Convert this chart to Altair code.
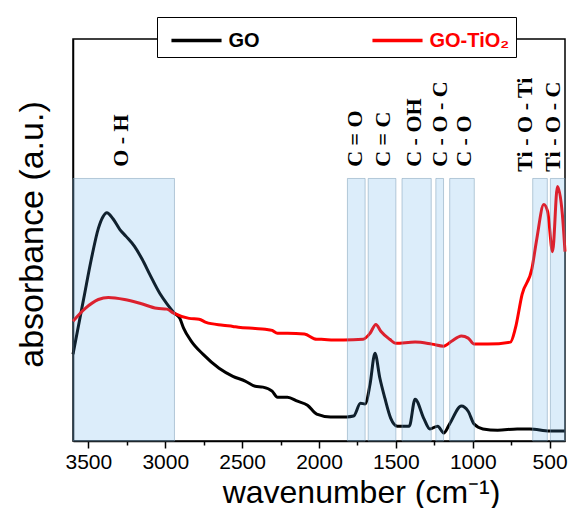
import altair as alt
import pandas as pd

# ---- data ----
go_wn = [3600, 3530, 3480, 3435, 3405, 3380, 3340, 3295, 3255, 3200, 3150, 3100, 3035, 2990, 2940,
         2905, 2880, 2830, 2755, 2650, 2560, 2480, 2415, 2365, 2305, 2270, 2205, 2140, 2075, 2015,
         1925, 1820, 1775, 1730, 1700, 1668, 1636, 1604, 1572, 1534, 1490, 1413, 1375, 1317, 1279,
         1228, 1189, 1151, 1074, 1030, 991, 934, 838, 711, 628, 500, 400]
go_abs = [0.216, 0.355, 0.454, 0.529, 0.558, 0.568, 0.553, 0.526, 0.509, 0.484, 0.452, 0.414, 0.367, 0.342, 0.318,
          0.305, 0.280, 0.248, 0.216, 0.181, 0.161, 0.149, 0.136, 0.134, 0.124, 0.109, 0.109, 0.099, 0.089, 0.067,
          0.060, 0.060, 0.062, 0.094, 0.092, 0.141, 0.218, 0.156, 0.107, 0.057, 0.037, 0.037, 0.104, 0.055, 0.030,
          0.037, 0.020, 0.042, 0.087, 0.074, 0.042, 0.030, 0.027, 0.030, 0.030, 0.025, 0.025]

red_wn = [3600, 3520, 3435, 3370, 3265, 3160, 3055, 2990, 2945, 2845, 2780, 2735, 2625, 2560, 2525,
          2415, 2350, 2305, 2270, 2205, 2095, 2015, 1985, 1905, 1840, 1713, 1668, 1630, 1598, 1540,
          1502, 1375, 1266, 1189, 1138, 1074, 1030, 991, 902, 755, 723, 679, 615, 583, 538,
          513, 481, 449, 417, 400]
red_abs = [0.298, 0.330, 0.352, 0.357, 0.352, 0.342, 0.330, 0.328, 0.318, 0.305, 0.303, 0.295, 0.288, 0.285, 0.283,
           0.280, 0.278, 0.275, 0.268, 0.268, 0.266, 0.253, 0.253, 0.251, 0.251, 0.253, 0.268, 0.290, 0.273, 0.253,
           0.243, 0.246, 0.241, 0.236, 0.248, 0.261, 0.256, 0.241, 0.241, 0.246, 0.280, 0.365, 0.429, 0.504, 0.588,
           0.571, 0.471, 0.633, 0.563, 0.471]

series_names = ["GO", "GO-TiO\u2082"]
series_colors = ["#000000", "#ff0000"]

band_start = [3600, 1815, 1680, 1460, 1240, 1150, 610, 495]
band_end = [2940, 1700, 1500, 1270, 1190, 990, 515, 400]
band_top = 0.653

label_text = ["O - H", "C = O", "C = C", "C - OH", "C - O - C", "C - O", "Ti - O - Ti", "Ti - O - C"]
label_wn = [3289, 1766, 1585, 1383, 1215, 1055, 660, 481]
label_base = [0.682, 0.682, 0.682, 0.682, 0.682, 0.682, 0.670, 0.670]

tick_values = list(range(3500, 499, -250))

# ---- tables ----
spec = pd.concat([
    pd.DataFrame({"wn": go_wn, "abs": go_abs, "sample": series_names[0], "i": range(len(go_wn))}),
    pd.DataFrame({"wn": red_wn, "abs": red_abs, "sample": series_names[1], "i": range(len(red_wn))}),
])
bands = pd.DataFrame({"x1": band_start, "x2": band_end, "y1": 0.0, "y2": band_top})
labels = pd.DataFrame({"t": label_text, "wn": label_wn, "y": label_base})

xscale = alt.Scale(domain=[3600, 400], nice=False, zero=False)
yscale = alt.Scale(domain=[0, 1], nice=False)

lines = alt.Chart(spec).mark_line(strokeWidth=3, interpolate="monotone").encode(
    x=alt.X("wn:Q", scale=xscale, axis=alt.Axis(
        values=tick_values, format="d",
        labelExpr="datum.value % 500 == 0 ? datum.label : ''",
        tickSize={"expr": "datum.value % 500 == 0 ? 7 : 4"},
        tickColor="black", tickWidth=1.5, domainColor="black", domainWidth=1.5,
        labelFont="Liberation Sans", labelFontSize=21, labelColor="black", labelPadding=3,
        grid=False, title="wavenumber (cm\u207b\u00b9)", titleFont="Liberation Sans",
        titleX=288, titleY=61, titleBaseline="alphabetic",
        titleFontSize=32, titleFontWeight="normal", titleColor="black")),
    y=alt.Y("abs:Q", scale=yscale, axis=alt.Axis(
        labels=False, ticks=False, grid=False, domainColor="black", domainWidth=1.5,
        title="absorbance (a.u.)", titleFont="Liberation Sans", titleFontSize=34, titleY=195,
        titleFontWeight="normal", titleColor="black", titlePadding=24)),
    color=alt.Color("sample:N", scale=alt.Scale(domain=series_names, range=series_colors),
                    legend=alt.Legend(
                        title=None, orient="none", legendX=84, legendY=-22, direction="horizontal",
                        symbolType="M-1.67,0H1.67", symbolSize=900, symbolStrokeWidth=3.5,
                        symbolOffset=16, symbolFillColor="transparent",
                        labelFont="Liberation Sans", labelFontSize=20, labelFontWeight="bold",
                        labelColor={"expr": "datum.value == 'GO' ? 'black' : 'red'"},
                        labelExpr="datum.value == 'GO' ? datum.label : datum.label + '\u2002\u2002'",
                        labelOffset=15, columnPadding=104, padding=6.5,
                        strokeColor="black", fillColor="white")),
    order="i:Q",
)

rects = alt.Chart(bands).mark_rect(
    fill="#4ea7e6", fillOpacity=0.2, stroke="#7a9bb5", strokeOpacity=0.5, strokeWidth=1
).encode(x="x1:Q", x2="x2:Q", y="y1:Q", y2="y2:Q")

texts = alt.Chart(labels).mark_text(
    angle=270, align="left", baseline="middle", font="Liberation Serif",
    fontWeight="bold", fontSize=22, color="black"
).encode(x="wn:Q", y="y:Q", text="t:N")

chart = alt.layer(lines, rects, texts).properties(
    width=492, height=402, autosize="none",
    padding={"left": 65, "top": 31, "right": 6, "bottom": 67},
).configure_view(stroke="black", strokeWidth=1.5)

chart.save("out.html", embed_options={"renderer": "svg", "actions": False})
